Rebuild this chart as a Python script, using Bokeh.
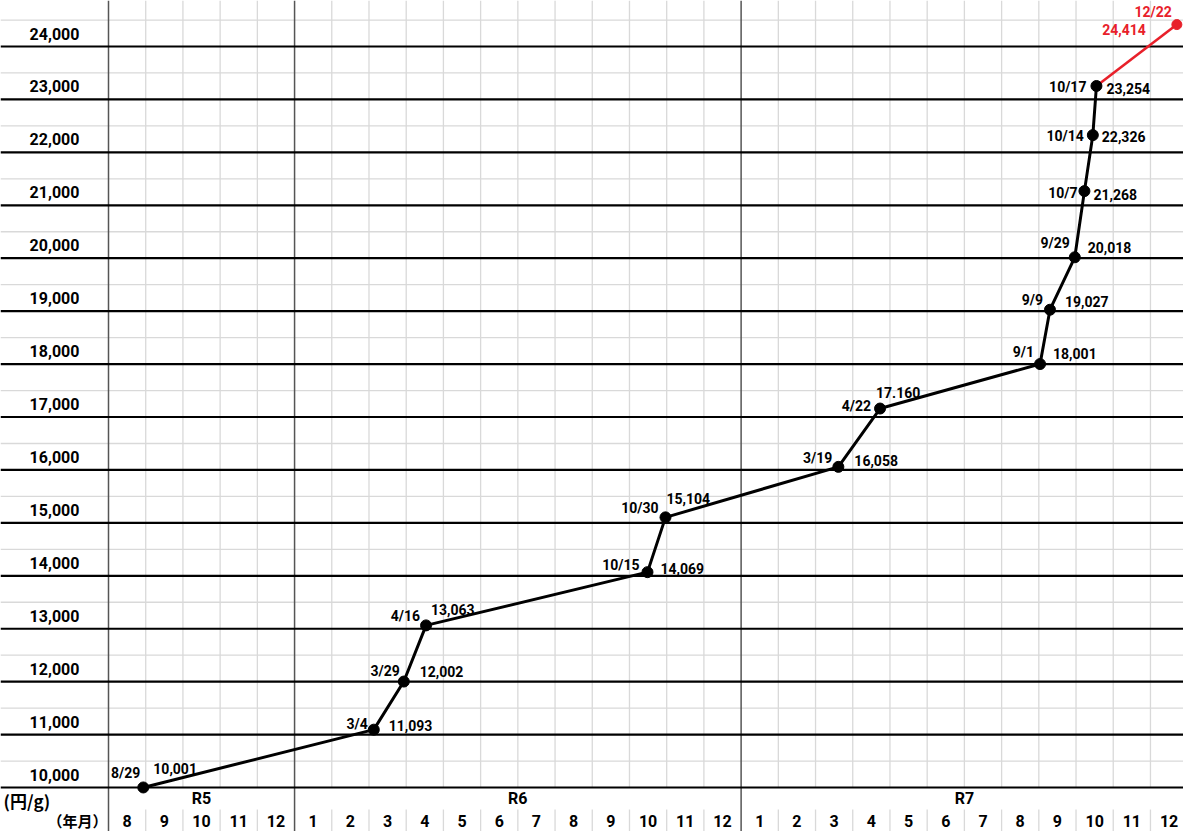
import calendar
from bokeh.plotting import figure
from bokeh.models import Range1d, ColumnDataSource
from bokeh.core.properties import value
from bokeh.embed import file_html
from bokeh.resources import INLINE

# ---------------- data ----------------
years = [2023, 2024, 2024, 2024, 2024, 2024, 2025, 2025, 2025, 2025, 2025, 2025, 2025, 2025]
date_labels = ["8/29", "3/4", "3/29", "4/16", "10/15", "10/30", "3/19", "4/22",
               "9/1", "9/9", "9/29", "10/7", "10/14", "10/17"]
prices = [10001, 11093, 12002, 13063, 14069, 15104, 16058, 17160,
          18001, 19027, 20018, 21268, 22326, 23254]
price_labels = ["10,001", "11,093", "12,002", "13,063", "14,069", "15,104", "16,058", "17.160",
                "18,001", "19,027", "20,018", "21,268", "22,326", "23,254"]

latest_year = 2025
latest_date = "12/22"
latest_price = 24414
latest_label = "24,414"

y_ticks = list(range(10000, 25000, 1000))
y_tick_labels = [f"{t:,}" for t in y_ticks]

month_numbers = [8, 9, 10, 11, 12] + list(range(1, 13)) + list(range(1, 13))
eras = ["R5", "R6", "R7"]
era_bounds = [0, 5, 17, 29]

# ---------------- layout / style ----------------
W, H = 1183, 831
LEFT = 108                      # px width of the label column
X_END = 28.888                  # month position at the right edge
PX_M = (W - LEFT) / X_END       # px per month
PX_K = 52.93                    # px per 1000 yen
x0 = -LEFT / PX_M
x1 = X_END
y_top = 24000 + 46 / PX_K * 1000
y_bot = y_top - H / PX_K * 1000


def vpx(px):
    return px / PX_K * 1000


ROW_SPLIT = 10000 - vpx(22)
FONT = "Roboto"
CJK = "Noto Sans CJK JP"
RED = "#e8202a"

# label offsets in px (date label right end / price label left start)
date_dx = [-3, -6, -4, -6, -8, -7, -6, -9, -6, -7, -5, -7, -9, -10]
date_dy = [-14, -6, -11, -9, -7, -9, -9, -3, -12, -10, -14, 2, 1, 1]
price_dx = [10, 15, 16, 5, 13, 1, 16, -4, 13, 15, 13, 9, 9, 10]
price_dy = [-19, -4, -10, -16, -4, -19, -6, -16, -11, -8, -10, 3, 1, 3]


def xpos(y, md):
    m, d = (int(s) for s in md.split("/"))
    return (y - 2023) * 12 + (m - 8) + d / calendar.monthrange(y, m)[1]


xs = [xpos(y, md) for y, md in zip(years, date_labels)]
x_latest = xpos(latest_year, latest_date)

p = figure(width=W, height=H, x_range=Range1d(x0, x1), y_range=Range1d(y_bot, y_top),
           output_backend="svg", toolbar_location=None, min_border=0,
           background_fill_color="white", border_fill_color="white")
p.outline_line_color = None
p.axis.visible = False
p.grid.visible = False

GRID = "#d9d9d9"
# light grid: half-thousand horizontals
half = [t + 500 for t in y_ticks]
p.segment(x0=[x0] * len(half), y0=half, x1=[x1] * len(half), y1=half,
          line_color=GRID, line_width=1.3)
# month verticals
mv = [m for m in range(1, 29) if m not in era_bounds]
p.segment(x0=mv, y0=[10000] * len(mv), x1=mv, y1=[y_top] * len(mv),
          line_color=GRID, line_width=1.3)
p.segment(x0=mv, y0=[ROW_SPLIT] * len(mv), x1=mv, y1=[y_bot] * len(mv),
          line_color=GRID, line_width=1.3)
# era dividers
eb = era_bounds[:3]
p.segment(x0=eb, y0=[y_bot] * 3, x1=eb, y1=[y_top] * 3, line_color="#555555", line_width=1.5)
# thousand lines
p.segment(x0=[x0] * len(y_ticks), y0=y_ticks, x1=[x1] * len(y_ticks), y1=y_ticks,
          line_color="black", line_width=2.2)

# y tick labels
p.text(x=[-54 / PX_M] * len(y_ticks), y=[t + vpx(13) for t in y_ticks], text=y_tick_labels,
       text_font=value(FONT), text_font_style="bold", text_font_size="16px",
       text_align="center", text_baseline="middle", text_color="black")

# month labels
mx = [i + 0.5 for i in range(len(month_numbers))]
p.text(x=mx, y=[10000 - vpx(33)] * len(mx), text=[str(m) for m in month_numbers],
       text_font=value(FONT), text_font_style="bold", text_font_size="16px",
       text_align="center", text_baseline="middle", text_color="black")
# era labels
ex = [(a + b) / 2 for a, b in zip(era_bounds[:-1], era_bounds[1:])]
p.text(x=ex, y=[10000 - vpx(11)] * 3, text=eras,
       text_font=value(FONT), text_font_style="bold", text_font_size="16px",
       text_align="center", text_baseline="middle", text_color="black")
# unit labels
p.text(x=[x0 + 3 / PX_M], y=[10000 - vpx(13)], text=["(円/g)"],
       text_font=value(CJK), text_font_style="bold", text_font_size="17px",
       text_align="left", text_baseline="middle", text_color="black")
p.text(x=[-1 / PX_M], y=[10000 - vpx(33)], text=["（年月）"],
       text_font=value(CJK), text_font_style="bold", text_font_size="15px",
       text_align="right", text_baseline="middle", text_color="black")

# red latest segment
p.line(x=[xs[-1], x_latest], y=[prices[-1], latest_price], line_color=RED, line_width=2.6)
p.scatter(x=[x_latest], y=[latest_price], size=10, color=RED)

# main series
p.line(x=xs, y=prices, line_color="black", line_width=3)
p.scatter(x=xs, y=prices, size=11, color="black")

src = ColumnDataSource(dict(x=xs, y=prices, d=date_labels, v=price_labels,
                            ddx=date_dx, ddy=date_dy, pdx=price_dx, pdy=price_dy))
p.text(x="x", y="y", text="d", x_offset="ddx", y_offset="ddy", source=src,
       text_font=value(FONT), text_font_style="bold", text_font_size="14px",
       text_align="right", text_baseline="middle", text_color="black")
p.text(x="x", y="y", text="v", x_offset="pdx", y_offset="pdy", source=src,
       text_font=value(FONT), text_font_style="bold", text_font_size="14px",
       text_align="left", text_baseline="middle", text_color="black")

p.text(x=[x_latest], y=[latest_price], text=[latest_date], x_offset=-5, y_offset=-13,
       text_font=value(FONT), text_font_style="bold", text_font_size="14px",
       text_align="right", text_baseline="middle", text_color=RED)
p.text(x=[x_latest], y=[latest_price], text=[latest_label], x_offset=-31, y_offset=5,
       text_font=value(FONT), text_font_style="bold", text_font_size="14px",
       text_align="right", text_baseline="middle", text_color=RED)

open("out.html", "w").write(file_html(p, INLINE))
